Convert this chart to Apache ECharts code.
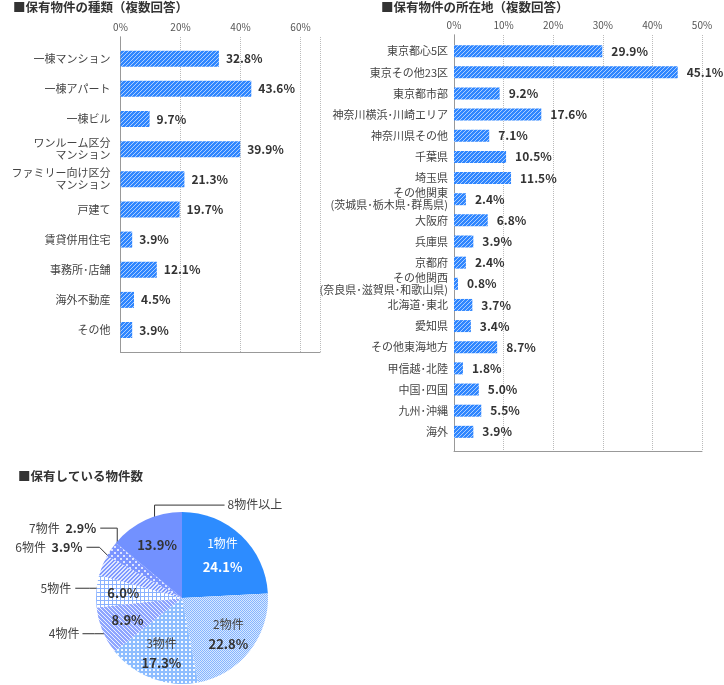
<!DOCTYPE html>
<html><head><meta charset="utf-8">
<script src="https://cdn.jsdelivr.net/npm/echarts@6/dist/echarts.min.js"></script>
<style>html,body{margin:0;padding:0;background:#fff}#c{width:724px;height:685px}</style>
</head><body><div id="c"></div>
<script>
// ---- data ----
const typeCategories = ['一棟マンション','一棟アパート','一棟ビル','ワンルーム区分\nマンション','ファミリー向け区分\nマンション','戸建て','賃貸併用住宅','事務所･店舗','海外不動産','その他'];
const typeValues = [32.8,43.6,9.7,39.9,21.3,19.7,3.9,12.1,4.5,3.9];
const typeTicks = [0,20,40,60];

const areaCategories = ['東京都心5区','東京その他23区','東京都市部','神奈川横浜･川崎エリア','神奈川県その他','千葉県','埼玉県','その他関東\n(茨城県･栃木県･群馬県)','大阪府','兵庫県','京都府','その他関西\n(奈良県･滋賀県･和歌山県)','北海道･東北','愛知県','その他東海地方','甲信越･北陸','中国･四国','九州･沖縄','海外'];
const areaValues = [29.9,45.1,9.2,17.6,7.1,10.5,11.5,2.4,6.8,3.9,2.4,0.8,3.7,3.4,8.7,1.8,5.0,5.5,3.9];
const areaTicks = [0,10,20,30,40,50];

const countNames = ['1物件','2物件','3物件','4物件','5物件','6物件','7物件','8物件以上'];
const countValues = [24.1,22.8,17.3,8.9,6.0,3.9,2.9,13.9];

// ---- styles ----
const FONT = "'Noto Sans CJK JP', 'Noto Sans', sans-serif";
function pat(size, base, draw) {
  const c = document.createElement('canvas'); c.width = c.height = size;
  const g = c.getContext('2d');
  if (base) { g.fillStyle = base; g.fillRect(0, 0, size, size); }
  draw(g, size);
  return { image: c, repeat: 'repeat' };
}
function slash(g, n, col, w) { g.fillStyle = col; for (let k = 0; k < n; k++) for (let j = 0; j < w; j++) g.fillRect((n - 1 - k + j) % n, k, 1, 1); }
function backslash(g, n, col, w) { g.fillStyle = col; for (let k = 0; k < n; k++) for (let j = 0; j < w; j++) g.fillRect((k + j) % n, k, 1, 1); }

const barPattern = pat(4, '#2f86ff', (g, n) => slash(g, n, 'rgba(255,255,255,0.6)', 1));
const piePatterns = [
  '#2d8cff',
  pat(2, '#d6e8ff', g => { g.fillStyle = '#86b4ff'; g.fillRect(0,0,1,1); g.fillRect(1,1,1,1); }),
  pat(4, '#8dbdff', g => { g.fillStyle = 'rgba(255,255,255,0.9)'; g.fillRect(1,1,2,2); }),
  pat(4, '#8fa6ff', (g, n) => backslash(g, n, 'rgba(255,255,255,0.85)', 1)),
  pat(4, '#ffffff', g => { g.fillStyle = '#8ab2ff'; g.fillRect(0,0,4,1); g.fillRect(0,0,1,4); }),
  pat(4, '#7d98ff', (g, n) => slash(g, n, 'rgba(255,255,255,0.75)', 2)),
  pat(6, '#7b95ff', g => { g.fillStyle = 'rgba(255,255,255,0.75)'; g.fillRect(0,0,2,2); g.fillRect(3,3,2,2); }),
  '#7291ff'
];

const pct = v => (+v).toFixed(1) + '%';
const dotted = { show: true, lineStyle: { type: 'dotted', color: '#bbb', width: 1 } };
const frameLine = { show: true, lineStyle: { color: '#999', width: 1 } };

function frameX(grid, max, ticks, interval) {
  return [
    { gridIndex: grid, type: 'value', position: 'top', min: 0, max: max, interval: interval,
      axisLine: { show: false }, axisTick: { show: false }, splitLine: dotted,
      axisLabel: { margin: 5, fontSize: 10, color: '#555', fontFamily: FONT,
        formatter: v => ticks.indexOf(Math.round(v * 1000) / 1000) >= 0 ? v + '%' : '' } },
    { gridIndex: grid, type: 'value', position: 'bottom', min: 0, max: max,
      axisLine: frameLine, axisTick: { show: false }, axisLabel: { show: false }, splitLine: { show: false } },
  ];
}
function frameY(grid) {
  return [
    { gridIndex: grid, type: 'value', position: 'left', min: 0, max: 1, axisLine: frameLine,
      axisTick: { show: false }, axisLabel: { show: false }, splitLine: { show: false } },
    { gridIndex: grid, type: 'value', position: 'right', min: 0, max: 1, axisLine: frameLine,
      axisTick: { show: false }, axisLabel: { show: false }, splitLine: { show: false } },
  ];
}
function catY(grid, cats, margin) {
  return { gridIndex: grid, type: 'category', data: cats, inverse: true,
    axisLine: { show: false }, axisTick: { show: false }, splitLine: { show: false },
    axisLabel: { interval: 0, margin: margin, fontSize: 11, lineHeight: 12, color: '#444', fontFamily: FONT } };
}
function barLabel(dist) {
  return { show: true, position: 'right', distance: dist, formatter: p => pct(p.value),
    fontSize: 12, fontWeight: 'bold', color: '#333', fontFamily: FONT };
}

const L_MAX = 66.5, R_MAX = 50;
const PIE_C = [182, 598], PIE_R = 86;

const innerNameIdx = [0, 1, 2];
const innerValueIdx = [0, 1, 2, 3, 4, 7];
const outerIdx = [3, 4, 5, 6, 7];
const outerValueIdx = [5, 6];

const option = {
  animation: false,
  textStyle: { fontFamily: FONT },
  title: [
    { text: '■保有物件の種類（複数回答）', left: 13, top: 1, padding: 0, textStyle: { fontSize: 12.5, fontWeight: 'bold', color: '#333', fontFamily: FONT } },
    { text: '■保有物件の所在地（複数回答）', left: 381, top: 1, padding: 0, textStyle: { fontSize: 12.5, fontWeight: 'bold', color: '#333', fontFamily: FONT } },
    { text: '■保有している物件数', left: 18, top: 470, padding: 0, textStyle: { fontSize: 12.5, fontWeight: 'bold', color: '#333', fontFamily: FONT } }
  ],
  grid: [
    { left: 120.5, width: 199.5, top: 37, height: 315, outerBoundsMode: 'none' },
    { left: 120.5, width: 199.5, top: 43.6, height: 301.5, outerBoundsMode: 'none' },
    { left: 454, width: 248, top: 35, height: 416, outerBoundsMode: 'none' },
    { left: 454, width: 248, top: 40.6, height: 401.8, outerBoundsMode: 'none' }
  ],
  xAxis: [
    ...frameX(0, L_MAX, typeTicks, 20),
    { gridIndex: 1, type: 'value', min: 0, max: L_MAX, show: false },
    ...frameX(2, R_MAX, areaTicks, 10),
    { gridIndex: 3, type: 'value', min: 0, max: R_MAX, show: false }
  ],
  yAxis: [
    ...frameY(0),
    catY(1, typeCategories, 10),
    ...frameY(2),
    catY(3, areaCategories, 6)
  ],
  series: [
    { type: 'bar', xAxisIndex: 2, yAxisIndex: 2, data: typeValues, barWidth: 16, silent: true,
      itemStyle: { color: barPattern }, label: barLabel(7) },
    { type: 'bar', xAxisIndex: 5, yAxisIndex: 5, data: areaValues, barWidth: 12, silent: true,
      itemStyle: { color: barPattern }, label: barLabel(9) },
    { type: 'pie', center: PIE_C, radius: [0, PIE_R], startAngle: 90, clockwise: true, silent: true,
      avoidLabelOverlap: false,
      data: countNames.map((n, i) => ({ name: n, value: countValues[i], itemStyle: { color: piePatterns[i] },
        label: { show: outerIdx.indexOf(i) >= 0 }, labelLine: { show: outerIdx.indexOf(i) >= 0 } })),
      itemStyle: { borderWidth: 0 },
      label: { position: 'outside', fontSize: 12, color: '#444', fontFamily: FONT,
        formatter: p => outerValueIdx.indexOf(p.dataIndex) >= 0 ? p.name + ' {v|' + pct(p.value) + '}' : p.name,
        rich: { v: { fontSize: 12.5, fontWeight: 'bold', color: '#333', fontFamily: FONT, padding: [0, 0, 0, 3] } } },
      labelLine: { show: true, length: 10, length2: 10, lineStyle: { color: '#333', width: 1 } },
      labelLayout: function (p) {
        const pts = p.labelLinePoints; if (!pts) return {};
        const x0 = pts[0][0], y0 = pts[0][1];
        switch (p.dataIndex) {
          case 7: return { x: x0 + 82, y: y0 - 16, align: 'left', verticalAlign: 'middle',
            labelLinePoints: [[x0 + 9, y0 + 1], [x0 + 9, y0 - 15], [x0 + 79, y0 - 15]] };
          case 6: return { x: x0 - 15, y: y0 - 21, align: 'right', verticalAlign: 'middle',
            labelLinePoints: [[x0 + 6, y0], [x0 + 6, y0 - 21], [x0 - 11, y0 - 21]] };
          case 5: return { x: x0 - 20, y: y0 - 18, align: 'right', verticalAlign: 'middle',
            labelLinePoints: [[x0 + 12, y0 - 3], [x0 - 3, y0 - 18], [x0 - 16, y0 - 18]] };
          case 4: return { x: x0 - 25, y: y0 - 3, align: 'right', verticalAlign: 'middle',
            labelLinePoints: [[x0 + 7, y0 - 3], [x0 - 7, y0 - 3], [x0 - 21, y0 - 3]] };
          case 3: return { x: x0 - 23, y: y0 + 3, align: 'right', verticalAlign: 'middle',
            labelLinePoints: [[x0 + 5, y0 + 3], [x0 - 8, y0 + 3], [x0 - 20, y0 + 3]] };
        }
        return {};
      }
    },
    { type: 'pie', center: PIE_C, radius: [0, PIE_R * 1.3], startAngle: 90, clockwise: true, silent: true,
      avoidLabelOverlap: false,
      data: countNames.map((n, i) => ({ name: n, value: countValues[i],
        label: { show: innerValueIdx.indexOf(i) >= 0 } })),
      itemStyle: { color: 'rgba(0,0,0,0)', borderWidth: 0 },
      labelLine: { show: false },
      label: { position: 'inside', fontFamily: FONT,
        formatter: p => {
          const w = p.dataIndex === 0;
          const v = '{' + (w ? 'vw' : 'v') + '|' + pct(p.value) + '}';
          if (innerNameIdx.indexOf(p.dataIndex) >= 0) return '{' + (w ? 'nw' : 'n') + '|' + p.name + '}\n' + v;
          return v;
        },
        rich: {
          n: { fontSize: 12, color: '#444', lineHeight: 19, fontFamily: FONT },
          v: { fontSize: 13, fontWeight: 'bold', color: '#333', lineHeight: 19, fontFamily: FONT },
          nw: { fontSize: 12, color: '#fff', lineHeight: 23, fontFamily: FONT },
          vw: { fontSize: 13, fontWeight: 'bold', color: '#fff', lineHeight: 23, fontFamily: FONT }
        } }
    }
  ]
};
const chart = echarts.init(document.getElementById('c'), null, { renderer: 'canvas' });
chart.setOption(option);
</script></body></html>
